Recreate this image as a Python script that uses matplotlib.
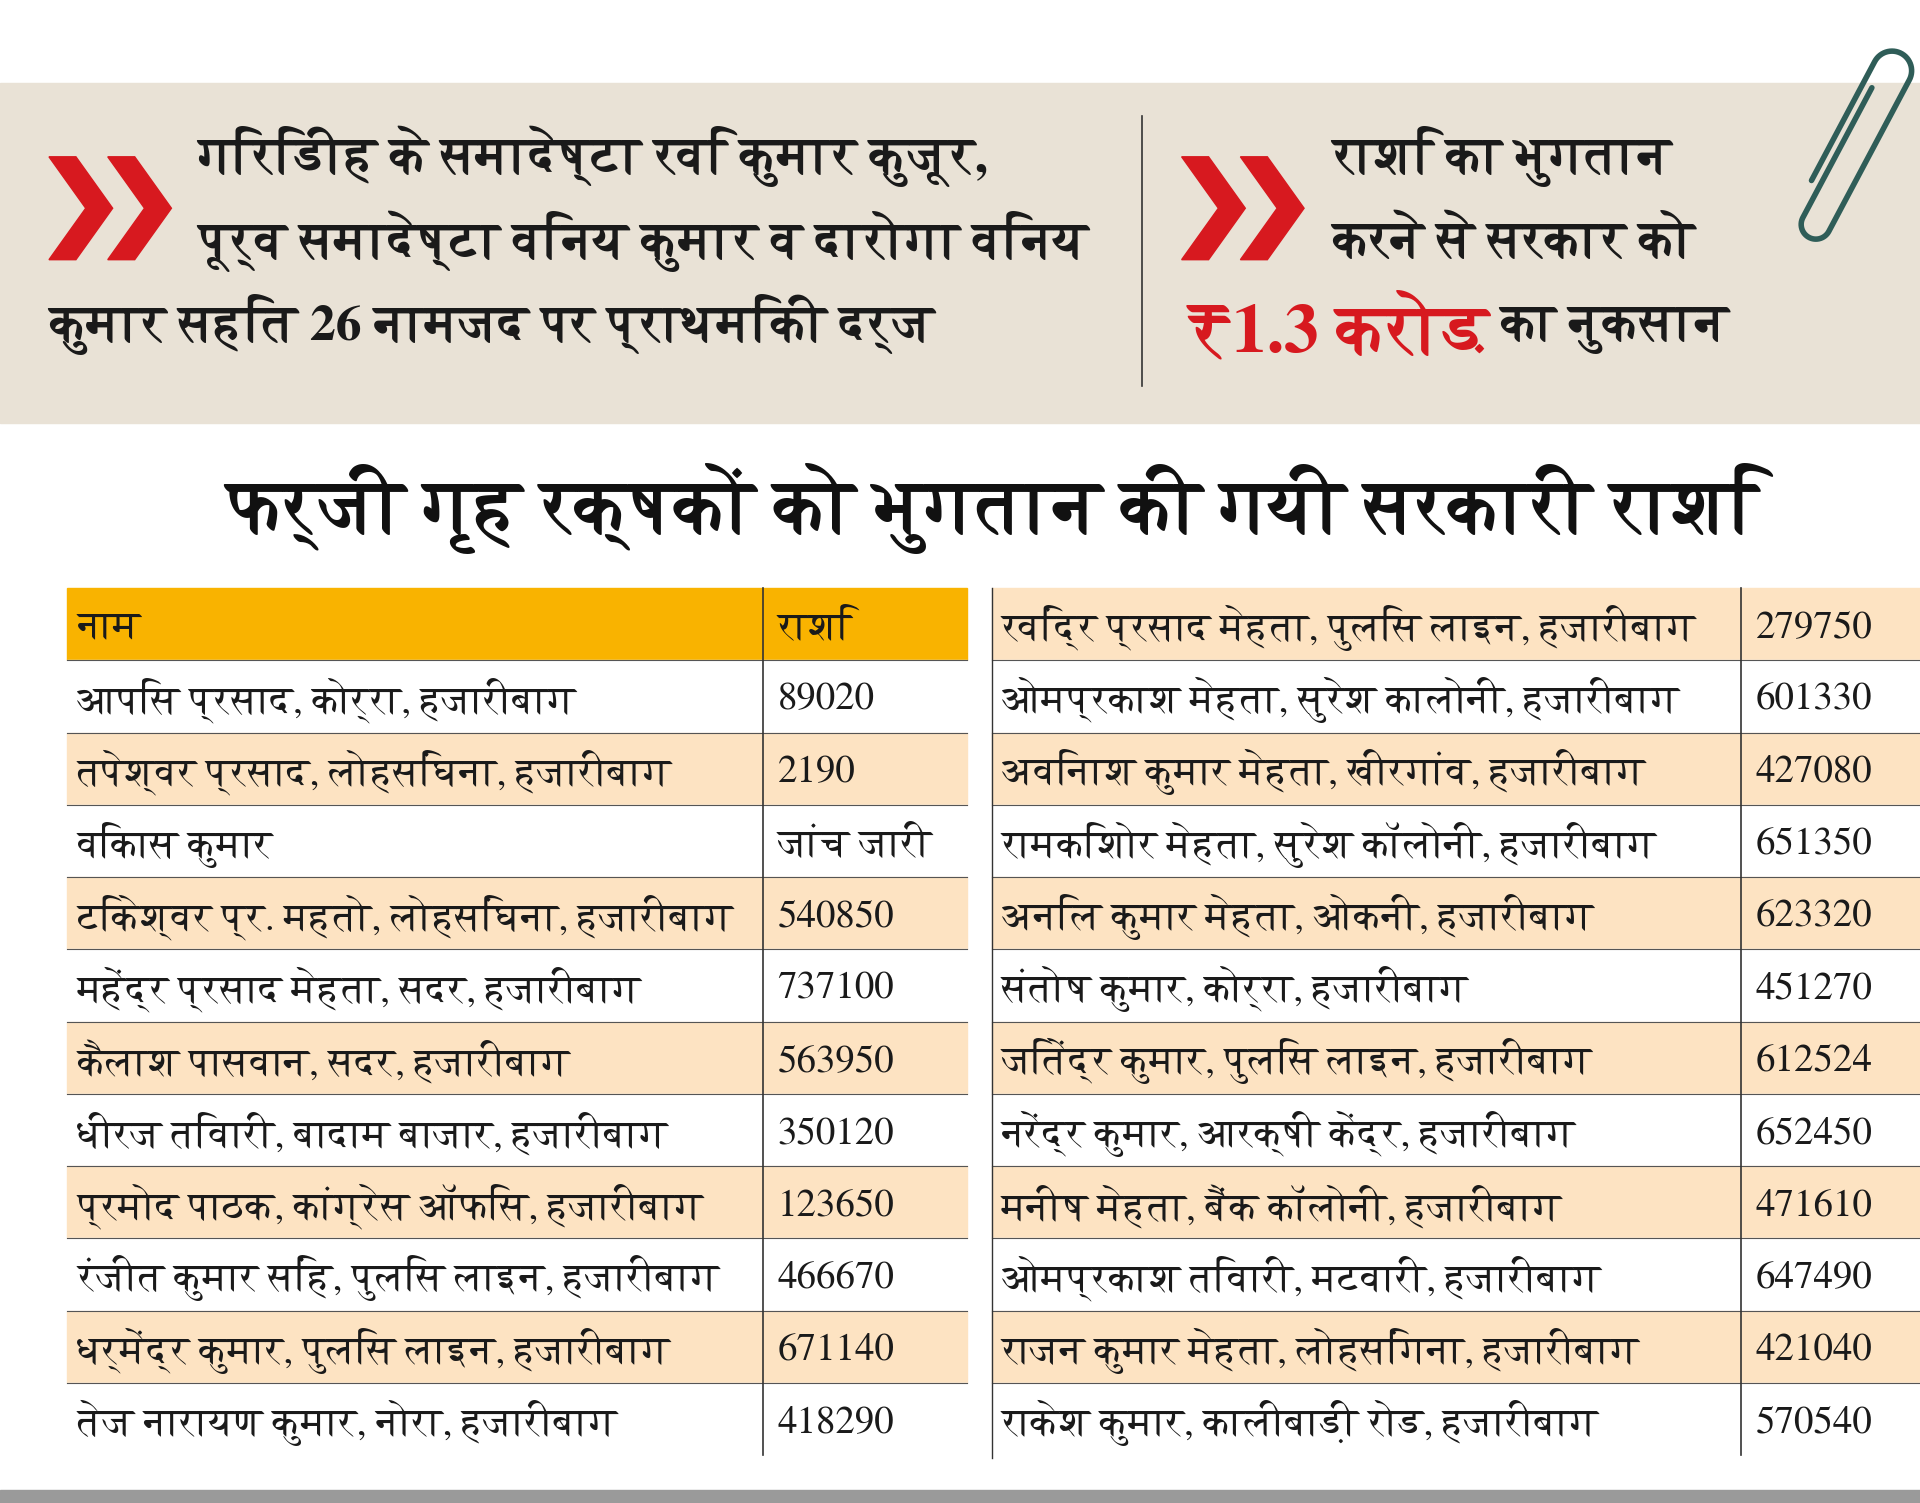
import matplotlib
matplotlib.use("Agg")
import numpy as np
import matplotlib.pyplot as plt
from matplotlib import font_manager as fm
from matplotlib.ft2font import FT2Font
from matplotlib.patches import Rectangle, Polygon

# ---------------- data ----------------
left_names = ["आपिस प्रसाद, कोर्रा, हजारीबाग", "तपेश्वर प्रसाद, लोहसिंघना, हजारीबाग", "विकास कुमार",
              "टिकेश्वर प्र. महतो, लोहसिंघना, हजारीबाग", "महेंद्र प्रसाद मेहता, सदर, हजारीबाग",
              "कैलाश पासवान, सदर, हजारीबाग", "धीरज तिवारी, बादाम बाजार, हजारीबाग",
              "प्रमोद पाठक, कांग्रेस ऑफिस, हजारीबाग", "रंजीत कुमार सिंह, पुलिस लाइन, हजारीबाग",
              "धर्मेंद्र कुमार, पुलिस लाइन, हजारीबाग", "तेज नारायण कुमार, नोरा, हजारीबाग"]
left_amounts = ["89020", "2190", "जांच जारी", "540850", "737100", "563950", "350120",
                "123650", "466670", "671140", "418290"]
right_names = ["रविंद्र प्रसाद मेहता, पुलिस लाइन, हजारीबाग", "ओमप्रकाश मेहता, सुरेश कालोनी, हजारीबाग",
               "अविनाश कुमार मेहता, खीरगांव, हजारीबाग", "रामकिशोर मेहता, सुरेश कॉलोनी, हजारीबाग",
               "अनिल कुमार मेहता, ओकनी, हजारीबाग", "संतोष कुमार, कोर्रा, हजारीबाग",
               "जितेंद्र कुमार, पुलिस लाइन, हजारीबाग", "नरेंद्र कुमार, आरक्षी केंद्र, हजारीबाग",
               "मनीष मेहता, बैंक कॉलोनी, हजारीबाग", "ओमप्रकाश तिवारी, मटवारी, हजारीबाग",
               "राजन कुमार मेहता, लोहसिंगना, हजारीबाग", "राकेश कुमार, कालीबाड़ी रोड, हजारीबाग"]
right_amounts = ["279750", "601330", "427080", "651350", "623320", "451270", "612524",
                 "652450", "471610", "647490", "421040", "570540"]
header = ["नाम", "राशि"]
title = "फर्जी गृह रक्षकों को भुगतान की गयी सरकारी राशि"
left_lines = ["गिरिडीह के समादेष्टा रवि कुमार कुजूर,", "पूर्व समादेष्टा विनय कुमार व दारोगा विनय",
              "कुमार सहित 26 नामजद पर प्राथमिकी दर्ज"]
right_lines = ["राशि का भुगतान", "करने से सरकार को"]
loss_red = "₹1.3 करोड़"
loss_black = "का नुकसान"

# ---------------- font ----------------
fam = None
for f in fm.fontManager.ttflist:
    try:
        if 0x915 in FT2Font(f.fname).get_charmap():
            fam = f.name
            if f.weight in ("bold", 700):
                break
    except Exception:
        pass
families = ([fam] if fam else []) + ["DejaVu Sans"]
plt.rcParams["font.family"] = families

fig = plt.figure(figsize=(19.2, 15.03), dpi=100)
ax = fig.add_axes([0, 0, 1, 1])
ax.set_xlim(0, 1568)
ax.set_ylim(1227, 0)
ax.axis("off")

RED = "#d7191f"
BEIGE = "#e9e2d6"
ORANGE = "#f9b300"
PEACH = "#fde3c2"

ax.add_patch(Rectangle((0, 68), 1568, 277, color=BEIGE, zorder=0))
ax.plot([933, 933], [95, 315], color="#333333", lw=1.2)

def chevrons(x0, y0):
    for dx in (0, 48):
        ax.add_patch(Polygon([(x0+dx, y0), (x0+dx+22, y0), (x0+dx+52, y0+42),
                              (x0+dx+22, y0+84), (x0+dx, y0+84), (x0+dx+30, y0+42)],
                             closed=True, color=RED, zorder=2))

chevrons(40, 128)
chevrons(965, 128)
hs = 37
ax.text(162, 128, left_lines[0], fontsize=hs, fontweight="bold", va="center", color="#1a1a1a")
ax.text(162, 197, left_lines[1], fontsize=hs, fontweight="bold", va="center", color="#1a1a1a")
ax.text(40, 265, left_lines[2], fontsize=hs, fontweight="bold", va="center", color="#1a1a1a")
ax.text(1088, 128, right_lines[0], fontsize=hs, fontweight="bold", va="center", color="#1a1a1a")
ax.text(1088, 197, right_lines[1], fontsize=hs, fontweight="bold", va="center", color="#1a1a1a")
t = ax.text(968, 270, loss_red, fontsize=50, fontweight="bold", va="center", color=RED)
fig.canvas.draw()
bb = t.get_window_extent().transformed(ax.transData.inverted())
ax.text(max(bb.x1, bb.x0) + 10, 270, loss_black, fontsize=hs, fontweight="bold", va="center", color="#1a1a1a")

# paper clip (local coords: u along length, v across)
def arc(cu, cv, r, a0, a1, n=30):
    a = np.linspace(a0, a1, n)
    return list(zip(cu + r*np.cos(a), cv + r*np.sin(a)))
pts = [(20, 0), (130, 0)] + arc(130, 16, 16, -np.pi/2, np.pi/2) + [(130, 32), (-10, 32)] \
      + arc(-10, 20, 12, np.pi/2, 3*np.pi/2) + [(-10, 8), (110, 8)]
pts = np.array(pts)
ang = np.deg2rad(-62)
R = np.array([[np.cos(ang), -np.sin(ang)], [np.sin(ang), np.cos(ang)]])
p = pts @ R.T + np.array([1470, 165])
ax.plot(p[:, 0], p[:, 1], color="#2f5d58", lw=4, solid_capstyle="round", solid_joinstyle="round")

ax.text(810, 415, title, fontsize=54, fontweight="bold", ha="center", va="center", color="#111111")

# table
top, rh = 480, 59
fs = 28
def block(x0, xs, x1, names, amounts, hdr, peach_even):
    rows = ([tuple(hdr)] if hdr else []) + list(zip(names, amounts))
    for i, (n, a) in enumerate(rows):
        y = top + i * rh
        if hdr and i == 0:
            c = ORANGE
        elif (i % 2 == 0) == peach_even:
            c = PEACH
        else:
            c = "white"
        ax.add_patch(Rectangle((x0, y), x1 - x0, rh, color=c, zorder=0))
        if i > 0:
            ax.plot([x0, x1], [y, y], color="#555555", lw=0.8)
        ax.text(x0 + 8, y + rh/2 + 3, n, fontsize=fs, va="center", color="#1a1a1a")
        ax.text(xs + 12, y + rh/2 + 3, a, fontsize=fs, va="center", color="#1a1a1a")
    ax.plot([xs, xs], [top, top + len(rows)*rh], color="#333333", lw=1.2)

block(55, 623, 790, left_names, left_amounts, header, True)
block(810, 1422, 1568, right_names, right_amounts, None, True)
ax.plot([810, 810], [top, 1190], color="#333333", lw=1.0)
ax.add_patch(Rectangle((0, 1216), 1568, 11, color="#9a9a9a", zorder=0))

fig.savefig("out.png", dpi=100, facecolor="white")
